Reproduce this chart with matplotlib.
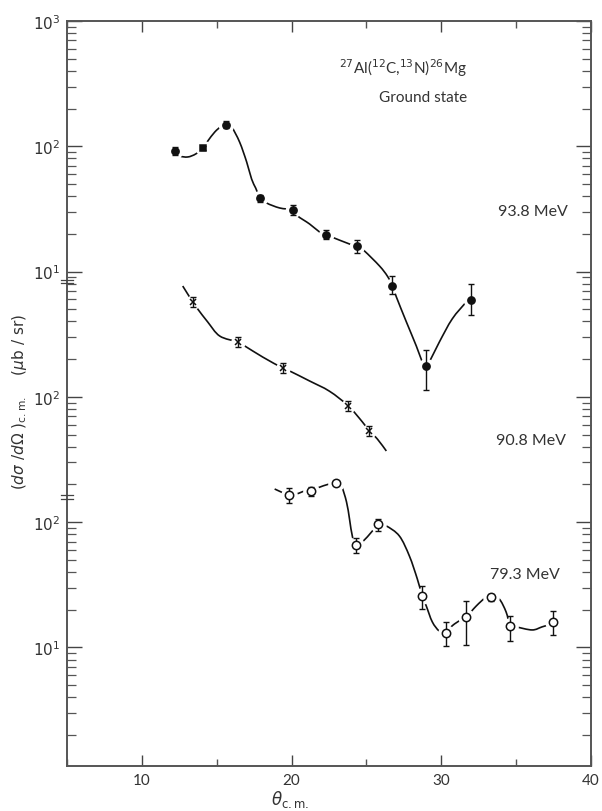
import numpy as np
import matplotlib
matplotlib.use("Agg")
from matplotlib import pyplot as plt
from matplotlib.path import Path
from matplotlib.patches import PathPatch
from matplotlib.ticker import FixedLocator, LogLocator, MultipleLocator, NullFormatter
from matplotlib.transforms import blended_transform_factory

plt.rcParams['font.family'] = ['Lato', 'DejaVu Sans']
plt.rcParams['mathtext.fontset'] = 'dejavusans'

INK = '#111111'
GREY = '#333333'

# 93.8 MeV, filled circles (second point is a square), mb/sr as printed
theta93 = [12.2, 14.07, 15.6, 17.87, 20.07, 22.27, 24.4, 26.73, 29.0, 32.0]
xs93 = [92, 97, 148, 38.6, 31.0, 19.6, 16.0, 7.7, 1.77, 5.9]
lo93 = [85, 94, 140, 35.9, 28.3, 18.2, 14.1, 6.6, 1.13, 4.5]
hi93 = [99, 100, 159, 40.8, 34.0, 21.5, 17.9, 9.2, 2.37, 7.96]
mk93 = ['o', 's', 'o', 'o', 'o', 'o', 'o', 'o', 'o', 'o']

# 90.8 MeV, crosses
theta91 = [13.4, 16.4, 19.4, 23.8, 25.2]
xs91 = [572, 274, 170, 84.5, 53.5]
lo91 = [522, 251, 156, 77, 49]
hi91 = [627, 299, 185, 93, 58.5]

# 79.3 MeV, open circles
theta79 = [19.8, 21.33, 23.0, 24.33, 25.8, 28.73, 30.33, 31.67, 33.33, 34.6, 37.47]
xs79 = [165, 177, 206, 65.8, 96.8, 25.8, 13.1, 17.5, 25.3, 14.9, 16.0]
lo79 = [142, 162, 198, 56.8, 85.1, 20.3, 10.3, 10.5, 23.5, 11.3, 12.6]
hi79 = [187.5, 191, 213, 74.8, 106, 31.0, 16.0, 23.5, 26.7, 17.8, 19.5]

# hand-drawn guide curves through each set
cth93 = [12.2, 12.53, 13.07, 13.6, 14.07, 14.4, 14.87, 15.33, 15.73, 16.0, 16.53, 17.0,
         17.33, 17.6, 17.87, 18.33, 19.2, 20.07, 20.4, 21.2, 21.87, 22.27, 22.67, 23.87,
         24.4, 24.87, 25.87, 26.4, 26.73, 27.0, 27.67, 28.33, 28.73, 28.93, 29.2, 29.87,
         30.73, 31.67, 31.93]
cxs93 = [91.7, 83.8, 82.2, 86.9, 96.8, 110, 130, 145, 151, 143, 108, 75,
         54.8, 46.5, 39.4, 35.3, 32.2, 31.0, 27.8, 24.0, 20.7, 19.6, 18.9, 16.6,
         16.0, 14.6, 11.1, 9.2, 7.7, 6.27, 3.96, 2.55, 1.90, 1.73, 1.90, 2.74,
         4.19, 5.72, 6.15]

cth91 = [12.73, 13.4, 13.73, 14.4, 15.2, 16.4, 16.87, 18.07, 19.4, 19.87, 21.2, 22.53,
         23.8, 24.73, 25.2, 25.73, 26.33]
cxs91 = [767, 572, 503, 396, 306, 274, 255, 208, 170, 161, 134, 111,
         84.5, 63.1, 53.5, 46.1, 37.0]

cth79 = [18.87, 19.8, 20.33, 20.87, 21.33, 21.73, 22.53, 23.0, 23.33, 23.67, 23.87, 24.07,
         24.33, 24.73, 25.4, 25.8, 26.33, 27.2, 27.87, 28.4, 28.73, 29.0, 29.4, 29.87,
         30.33, 30.73, 31.4, 31.67, 32.33, 33.0, 33.33, 33.87, 34.33, 34.6, 35.0, 36.07,
         36.73, 37.33, 37.47]
cxs79 = [184, 165, 168, 177, 177, 187.5, 202, 206, 194.5, 145, 106, 76.2,
         65.8, 69.5, 85.1, 96.8, 93.3, 77.6, 53.7, 35.2, 25.8, 21.4, 16.0, 13.5,
         13.1, 14.9, 16.9, 17.5, 21.4, 25.3, 25.8, 24.4, 19.2, 14.9, 14.6, 13.8,
         14.6, 15.4, 16.0]

# each set sits on its own stretch of the log axis
shift93, shift91, shift79 = 1.0, 1e-2, 1e-3

ylabels = ['$10^3$', '$10^2$', '$10^1$', '$10^2$', '$10^2$', '$10^1$']
ymajor = [1e3, 1e2, 1e1, 1e0, 1e-1, 1e-2]

fig = plt.figure(figsize=(6.02, 8.12), dpi=100)
ax = fig.add_axes([67/602, 1-767/812, (591-67)/602, (767-22)/812])
ax.set_yscale('log')
ax.set_xlim(5, 40)
ax.set_ylim(10**-2.946, 1e3)


def smooth_path(xs, ys):
    # Catmull-Rom through the traced points, built as cubic Beziers in (x, log y)
    p = np.column_stack([xs, np.log10(ys)])
    pp = np.vstack([p[0], p, p[-1]])
    verts = [p[0]]
    codes = [Path.MOVETO]
    for i in range(1, len(pp) - 2):
        c1 = pp[i] + (pp[i + 1] - pp[i - 1]) / 6
        c2 = pp[i + 1] - (pp[i + 2] - pp[i]) / 6
        verts += [c1, c2, pp[i + 1]]
        codes += [Path.CURVE4] * 3
    v = np.array(verts)
    v[:, 1] = 10 ** v[:, 1]
    return Path(v, codes)


def draw(th, v, lo, hi, cth, cv, shift, markers, face, msize):
    v = np.array(v) * shift
    lo = np.array(lo) * shift
    hi = np.array(hi) * shift
    ax.add_patch(PathPatch(smooth_path(cth, np.array(cv) * shift), fill=False,
                           edgecolor=INK, lw=1.2, zorder=1))
    ax.plot(th, v, ls='none', marker='o', ms=msize + 5, mfc='white', mec='white', zorder=2)
    ax.errorbar(th, v, yerr=[v - lo, hi - v], fmt='none', ecolor=INK, elinewidth=1.0,
                capsize=2.5, capthick=1.0, zorder=3)
    for t, y, m in zip(th, v, markers):
        ax.plot(t, y, ls='none', marker=m, ms=msize if m != 's' else msize - 0.5,
                mfc=face if m != 'x' else INK, mec=INK, mew=1.1, zorder=4)


draw(theta93, xs93, lo93, hi93, cth93, cxs93, shift93, mk93, INK, 5.2)
draw(theta91, xs91, lo91, hi91, cth91, cxs91, shift91, ['x'] * len(theta91), INK, 4.5)
draw(theta79, xs79, lo79, hi79, cth79, cxs79, shift79, ['o'] * len(theta79), 'white', 6)

# axes styling
for s in ax.spines.values():
    s.set_color('#555555')
    s.set_linewidth(1.4)

ax.yaxis.set_major_locator(FixedLocator(ymajor))
ax.set_yticklabels(ylabels)
ax.yaxis.set_minor_locator(LogLocator(base=10, subs=np.arange(2, 10), numticks=100))
ax.yaxis.set_minor_formatter(NullFormatter())
ax.xaxis.set_major_locator(MultipleLocator(10))
ax.xaxis.set_minor_locator(MultipleLocator(5))

ax.tick_params(axis='y', which='major', direction='in', length=11, width=1.0,
               color='#444444', left=True, right=True, labelsize=11, labelcolor=GREY, pad=5)
ax.tick_params(axis='y', which='minor', direction='in', length=6.5, width=0.9,
               color='#555555', left=True, right=True)
ax.tick_params(axis='x', which='major', direction='in', length=8, width=1.0,
               color='#444444', top=True, bottom=True, labelsize=11, labelcolor=GREY, pad=5)
ax.tick_params(axis='x', which='minor', direction='in', length=5, width=1.0,
               color='#555555', top=True, bottom=True)

# axis break marks where the scale restarts
tr = blended_transform_factory(ax.transAxes, ax.transData)
for yb in (8.3, 0.159):
    for k in (0.97, 1.03):
        ax.plot([-0.012, 0.012], [yb * k, yb * k], color='#444444', lw=0.9,
                transform=tr, clip_on=False, zorder=5)

# annotations
ax.text(0.763, 0.938, r'$^{27}$Al($^{12}$C,$^{13}$N)$^{26}$Mg', transform=ax.transAxes,
        ha='right', va='center', fontsize=11, color=GREY)
ax.text(0.763, 0.898, 'Ground state', transform=ax.transAxes,
        ha='right', va='center', fontsize=11, color=GREY)
ax.text(0.956, 0.745, '93.8 MeV', transform=ax.transAxes, ha='right', va='center',
        fontsize=11.5, color=GREY)
ax.text(0.952, 0.4376, '90.8 MeV', transform=ax.transAxes, ha='right', va='center',
        fontsize=11.5, color=GREY)
ax.text(0.941, 0.258, '79.3 MeV', transform=ax.transAxes, ha='right', va='center',
        fontsize=11.5, color=GREY)

fig.text(0.032, 0.505, r'$(d\sigma\ /d\Omega\ )_{\mathrm{c.m.}}$     $(\mu\mathrm{b\ /\ sr})$',
         rotation=90, ha='center', va='center', fontsize=11, color=GREY)
fig.text(0.482, 0.016, r'$\theta_{\mathrm{c.m.}}$', ha='center', va='center',
         fontsize=12, color=GREY)

fig.savefig('out.png', dpi=100, facecolor='white')
